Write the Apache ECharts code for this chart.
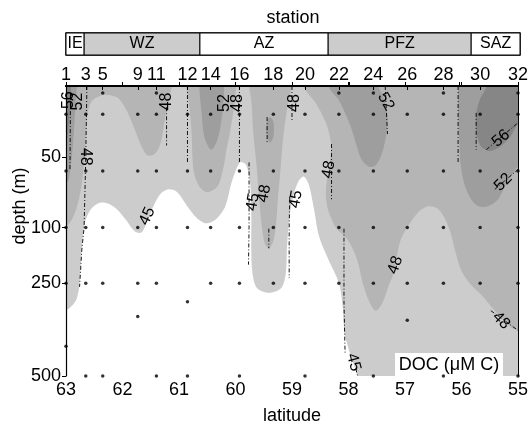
<!DOCTYPE html>
<html>
<head>
<meta charset="utf-8">
<script src="https://cdn.jsdelivr.net/npm/echarts@6/dist/echarts.min.js"></script>
<style>
html, body { margin: 0; padding: 0; background: #fff; }
#main { width: 531px; height: 430px; }
</style>
</head>
<body>
<div id="main"></div>
<script>
var chartDom = document.getElementById('main');
var myChart = echarts.init(chartDom);
var option;

// stations along the transect
var stations = [1, 3, 5, 9, 11, 12, 14, 16, 18, 20, 22, 24, 26, 28, 30, 32];
var stationLat = [63.0, 62.65, 62.35, 61.73, 61.4, 60.85, 60.44, 59.93, 59.33, 58.77, 58.17, 57.56, 56.96, 56.32, 55.67, 55.0];
var otherStationLat = [62.0, 57.98, 56.04];
var sampleDepth = [
    [20, 60, 100, 250, 420],
    [20, 60, 100, 250, 500],
    [5, 20, 60, 100, 250, 500],
    [20, 60, 100, 250, 340],
    [5, 20, 60, 100, 250, 500],
    [20, 60, 100, 300, 500],
    [20, 60, 100, 250],
    [20, 60, 100, 250, 500],
    [20, 60, 100, 250],
    [20, 60, 100, 250, 500],
    [5, 20, 60, 100, 250],
    [5, 20, 60, 100, 250, 500],
    [20, 60, 100, 250, 350],
    [5, 20, 60, 100, 250, 500],
    [20, 60, 100, 250],
    [5, 20, 60, 100, 250, 500]
];

// frontal zones
var zoneNames = ['IE', 'WZ', 'AZ', 'PFZ', 'SAZ'];
var zoneEdges = [63.0, 62.68, 60.64, 58.38, 55.86, 55.0];
var zoneShaded = [false, true, false, true, false];

var depthTicks = [50, 100, 250, 500];

// DOC contours, [latitude, depth m]
var below45 = [[63.3, 600], [63.3, 322], [63.0, 321], [62.93, 316], [62.82, 295], [62.77, 263], [62.75, 223], [62.72, 156], [62.67, 97], [62.56, 87], [62.40, 82.5], [62.26, 83], [62.10, 87], [61.93, 95], [61.78, 111], [61.66, 113], [61.56, 95], [61.43, 83], [61.31, 75.5], [61.17, 73], [61.03, 75], [60.87, 84], [60.69, 93], [60.52, 97], [60.34, 94], [60.18, 85], [60.06, 67], [59.92, 54], [59.81, 56], [59.74, 69], [59.72, 90], [59.72, 156], [59.70, 223], [59.62, 263], [59.41, 276], [59.19, 263], [59.11, 223], [59.09, 156], [59.05, 94], [58.98, 78], [58.88, 67], [58.79, 64], [58.70, 70], [58.61, 87], [58.52, 124], [58.35, 188], [58.17, 249], [58.10, 316], [58.07, 383], [57.98, 436], [57.89, 476], [57.78, 530], [57.7, 600]];

var above48 = [
    [[63.3, -30], [61.13, -30], [61.13, 0], [61.17, 7.7], [61.22, 17], [61.26, 26], [61.33, 41], [61.43, 48], [61.56, 49], [61.66, 43], [61.78, 31], [61.93, 17], [62.08, 8.4], [62.26, 6.3], [62.40, 7], [62.54, 10.5], [62.61, 18], [62.65, 38], [62.68, 55], [62.72, 69], [62.79, 83], [62.89, 94], [63.0, 99], [63.3, 104]],
    [[60.87, -30], [60.87, 0], [60.83, 10], [60.78, 31], [60.76, 52], [60.73, 62], [60.64, 71], [60.50, 75], [60.32, 71], [60.22, 59], [60.16, 45], [60.09, 31], [60.02, 13], [59.99, 0], [59.99, -30]],
    [[59.76, -30], [59.76, 0], [59.72, 10], [59.69, 31], [59.63, 55], [59.58, 80], [59.53, 103], [59.48, 143], [59.41, 156], [59.33, 137], [59.28, 97], [59.25, 80], [59.21, 62], [59.16, 38], [59.09, 17], [59.02, 3], [59.0, 0], [59.0, -30]],
    [[58.79, -30], [58.79, 0], [58.58, 12], [58.40, 26], [58.31, 40], [58.33, 54], [58.38, 66], [58.40, 78], [58.35, 89], [58.21, 103], [58.03, 129], [57.89, 169], [57.82, 201], [57.75, 249], [57.64, 297], [57.52, 324], [57.40, 303], [57.29, 257], [57.20, 223], [57.15, 183], [57.08, 135], [56.94, 98.6], [56.76, 89], [56.59, 85], [56.41, 87], [56.29, 94], [56.20, 111], [56.11, 164], [56.00, 217], [55.83, 255], [55.65, 281], [55.41, 324], [55.23, 351], [55.12, 369], [55.0, 377], [54.7, 385], [54.7, -30]]
];

var above52 = [
    [[63.3, -30], [62.81, -30], [62.81, 0], [62.84, 19], [62.88, 43], [62.93, 61], [62.98, 68], [63.3, 72]],
    [[60.64, -30], [60.64, 0], [60.60, 19], [60.55, 36], [60.43, 45], [60.32, 38], [60.23, 19], [60.20, 0], [60.20, -30]],
    [[59.39, 22], [59.33, 25], [59.32, 31], [59.33, 36], [59.39, 40], [59.44, 36], [59.46, 31], [59.44, 25]],
    [[58.35, -30], [58.35, 0], [58.17, 10], [58.05, 20], [57.94, 31], [57.85, 43], [57.77, 52], [57.64, 57], [57.52, 56], [57.41, 48], [57.33, 34], [57.31, 20], [57.38, 8], [57.47, 0], [57.47, -30]],
    [[56.06, -30], [56.06, 0], [56.06, 19], [56.04, 38], [56.02, 54], [55.95, 69], [55.83, 80], [55.70, 85], [55.53, 85], [55.35, 80], [55.22, 70], [55.09, 62], [55.0, 57], [54.7, 50], [54.7, -30]]
];

var above56 = [
    [[63.3, -30], [62.91, -30], [62.91, 0], [62.93, 17], [62.96, 31], [63.0, 38], [63.3, 40]],
    [[55.56, -30], [55.56, 0], [55.68, 10], [55.74, 20], [55.74, 32], [55.65, 43], [55.49, 46], [55.32, 43], [55.14, 36], [55.0, 27], [54.7, 20], [54.7, -30]]
];

// contour lines (dash-dot)
var contourLines = [
    [[62.63, 0], [62.65, 50], [62.68, 100], [62.72, 160], [62.76, 260]],
    [[62.92, 5], [62.93, 60]],
    [[61.22, 15], [61.22, 42]],
    [[60.85, 0], [60.85, 54]],
    [[59.93, 0], [59.93, 54]],
    [[59.76, 54], [59.76, 100], [59.77, 200]],
    [[59.0, 0], [59.0, 25]],
    [[59.04, 78], [59.05, 100], [59.05, 236]],
    [[59.44, 22], [59.44, 40]],
    [[59.41, 103], [59.41, 156]],
    [[58.30, 41], [58.30, 80]],
    [[58.08, 103], [58.08, 300], [58.06, 440]],
    [[57.87, 480], [57.84, 500]],
    [[56.06, 0], [56.06, 54]],
    [[55.74, 19], [55.74, 45]],
    [[57.35, 0], [57.31, 34]],
    [[55.56, 45], [55.0, 26]],
    [[55.41, 73], [55.0, 59]],
    [[55.48, 324], [55.0, 377]]
];

var contourLabelText = ['56', '52', '48', '48', '45', '52', '48', '45', '48', '48', '45', '48', '52', '56', '52', '48', '48', '45'];
var contourLabelPos = [[62.96, 10], [62.79, 11], [62.65, 50], [61.22, 11], [61.56, 92], [60.20, 12], [59.97, 12], [59.69, 82], [59.49, 76], [58.96, 12], [58.93, 80], [58.35, 59], [57.34, 11], [55.30, 37], [55.26, 68], [57.17, 201], [55.30, 351], [57.91, 463]];
var contourLabelAngle = [90, 90, -90, 90, 65, 90, 90, 80, 80, 90, 80, 80, -60, 40, 45, 70, -45, -75];

var K = 0.375 / 1.43;   // compressed depth scale below 100 m
function tDepth(d) { return d <= 100 ? d : 100 + (d - 100) * K; }
function depthOf(t) { return t <= 100 ? t : 100 + (t - 100) / K; }

var FONT = 'Liberation Sans, Arial, sans-serif';

function stationLabel(v) {
    for (var i = 0; i < stationLat.length; i++) {
        if (Math.abs(stationLat[i] - v) < 0.001) return String(stations[i]);
    }
    return '';
}

function polySeries(polys, color, z) {
    return {
        type: 'custom',
        xAxisIndex: 0,
        yAxisIndex: 0,
        z: z,
        clip: true,
        silent: true,
        data: polys.map(function (p, i) { return [p[0][0], tDepth(p[0][1]), i]; }),
        renderItem: function (params, api) {
            var pts = polys[params.dataIndex].map(function (p) {
                return api.coord([p[0], tDepth(p[1])]);
            });
            return {
                type: 'polygon',
                shape: { points: pts, smooth: 0.3 },
                style: { fill: color, stroke: null }
            };
        }
    };
}

var dots = [];
stationLat.forEach(function (lat, i) {
    sampleDepth[i].forEach(function (d) { dots.push([lat, tDepth(d)]); });
});

option = {
    animation: false,
    textStyle: { fontFamily: FONT },
    grid: [
        { left: 66, right: 11, top: 86, bottom: 51, show: true, backgroundColor: '#cccccc', borderWidth: 0 },
        { left: 66, right: 11, top: 33, height: 22, show: true, backgroundColor: '#fff', borderColor: '#000', borderWidth: 1.5 }
    ],
    xAxis: [
        {
            gridIndex: 0, type: 'value', position: 'bottom', min: 55, max: 63, interval: 1, inverse: true, z: 10,
            name: 'latitude', nameLocation: 'middle', nameGap: 31,
            nameTextStyle: { fontSize: 18, color: '#000', fontFamily: FONT },
            axisLine: { lineStyle: { color: '#000', width: 2 } },
            axisTick: { inside: true, length: 4, lineStyle: { color: '#000' } },
            axisLabel: { color: '#000', fontSize: 18, margin: 5, fontFamily: FONT },
            splitLine: { show: false }
        },
        {
            gridIndex: 0, type: 'value', position: 'top', min: 55, max: 63, inverse: true, z: 10,
            axisLine: { lineStyle: { color: '#000', width: 2 } },
            axisTick: { show: true, customValues: otherStationLat, inside: false, length: 4, lineStyle: { color: '#000' } },
            axisLabel: { customValues: stationLat, formatter: stationLabel, color: '#000', fontSize: 18, margin: 2, fontFamily: FONT },
            splitLine: { show: false }
        },
        {
            gridIndex: 1, type: 'value', position: 'top', min: 55, max: 63, inverse: true,
            name: 'station', nameLocation: 'middle', nameGap: 6,
            nameTextStyle: { fontSize: 18, color: '#000', fontFamily: FONT },
            axisLine: { show: false }, axisTick: { show: false }, axisLabel: { show: false },
            splitLine: { show: false }
        },
        {
            gridIndex: 0, type: 'value', position: 'top', min: 55, max: 63, inverse: true, z: 10,
            axisLine: { show: false },
            axisTick: { show: true, customValues: stationLat, inside: true, length: 4, lineStyle: { color: '#000' } },
            axisLabel: { show: false },
            splitLine: { show: false }
        }
    ],
    yAxis: [
        {
            gridIndex: 0, type: 'value', min: 0, max: tDepth(500), inverse: true, z: 10,
            axisLine: { show: true, lineStyle: { color: '#000', width: 1.2 } },
            axisTick: { show: true, customValues: depthTicks.map(tDepth), length: 4, lineStyle: { color: '#000' } },
            axisLabel: {
                customValues: depthTicks.map(tDepth),
                formatter: function (v) { return String(Math.round(depthOf(v))); },
                color: '#000', fontSize: 18, margin: 5, fontFamily: FONT
            },
            splitLine: { show: false }
        },
        {
            gridIndex: 0, type: 'value', position: 'right', min: 0, max: tDepth(500), inverse: true, z: 10,
            axisLine: { show: true, lineStyle: { color: '#000', width: 1 } },
            axisTick: { show: false }, axisLabel: { show: false }, splitLine: { show: false }
        },
        {
            gridIndex: 1, type: 'value', min: 0, max: 1, show: false
        }
    ],
    graphic: [
        {
            type: 'text', x: 20, y: 206, rotation: Math.PI / 2, z: 100,
            style: { text: 'depth (m)', align: 'center', verticalAlign: 'middle', fontSize: 18, fill: '#000', fontFamily: FONT }
        },
        {
            type: 'group', left: 395, top: 353, z: 100,
            children: [
                { type: 'rect', shape: { x: 0, y: 0, width: 108, height: 24 }, style: { fill: '#fff' } },
                { type: 'text', x: 54, y: 12, style: { text: 'DOC (μM C)', align: 'center', verticalAlign: 'middle', fontSize: 18, fill: '#000', fontFamily: FONT } }
            ]
        }
    ],
    series: [
        polySeries([below45], '#ffffff', 1),
        polySeries(above48, '#b5b5b5', 2),
        polySeries(above52, '#9e9e9e', 3),
        polySeries(above56, '#868686', 4),
        {
            type: 'custom', xAxisIndex: 0, yAxisIndex: 0, z: 5, clip: true, silent: true,
            data: contourLines.map(function (l, i) { return [l[0][0], tDepth(l[0][1]), i]; }),
            renderItem: function (params, api) {
                var pts = contourLines[params.dataIndex].map(function (p) {
                    return api.coord([p[0], tDepth(p[1])]);
                });
                return {
                    type: 'polyline',
                    shape: { points: pts },
                    style: { stroke: '#000', lineWidth: 0.9, lineDash: [4, 2, 1, 2], fill: null }
                };
            }
        },
        {
            type: 'scatter', xAxisIndex: 0, yAxisIndex: 0, z: 6, clip: false, silent: true,
            symbol: 'circle', symbolSize: 3.5,
            itemStyle: { color: '#000' },
            data: dots
        },
        {
            type: 'custom', xAxisIndex: 0, yAxisIndex: 0, z: 7, silent: true,
            data: contourLabelPos.map(function (p, i) { return [p[0], tDepth(p[1]), i]; }),
            renderItem: function (params, api) {
                var i = params.dataIndex;
                var p = api.coord([contourLabelPos[i][0], tDepth(contourLabelPos[i][1])]);
                return {
                    type: 'text',
                    x: p[0], y: p[1],
                    rotation: contourLabelAngle[i] * Math.PI / 180,
                    style: { text: contourLabelText[i], align: 'center', verticalAlign: 'middle', fontSize: 16, fill: '#000', fontFamily: FONT }
                };
            }
        },
        {
            type: 'custom', xAxisIndex: 2, yAxisIndex: 2, silent: true,
            data: zoneNames.map(function (n, i) { return [zoneEdges[i], zoneEdges[i + 1], i]; }),
            renderItem: function (params, api) {
                var i = params.dataIndex;
                var p0 = api.coord([zoneEdges[i], 1]);
                var p1 = api.coord([zoneEdges[i + 1], 0]);
                return {
                    type: 'group',
                    children: [
                        {
                            type: 'rect',
                            shape: { x: p0[0], y: p0[1], width: p1[0] - p0[0], height: p1[1] - p0[1] },
                            style: { fill: zoneShaded[i] ? '#cccccc' : '#ffffff', stroke: '#000', lineWidth: 1 }
                        },
                        {
                            type: 'text',
                            x: (p0[0] + p1[0]) / 2, y: (p0[1] + p1[1]) / 2,
                            style: { text: zoneNames[i], align: 'center', verticalAlign: 'middle', fontSize: 16, fill: '#000', fontFamily: FONT }
                        }
                    ]
                };
            }
        }
    ]
};

myChart.setOption(option);
</script>
</body>
</html>
